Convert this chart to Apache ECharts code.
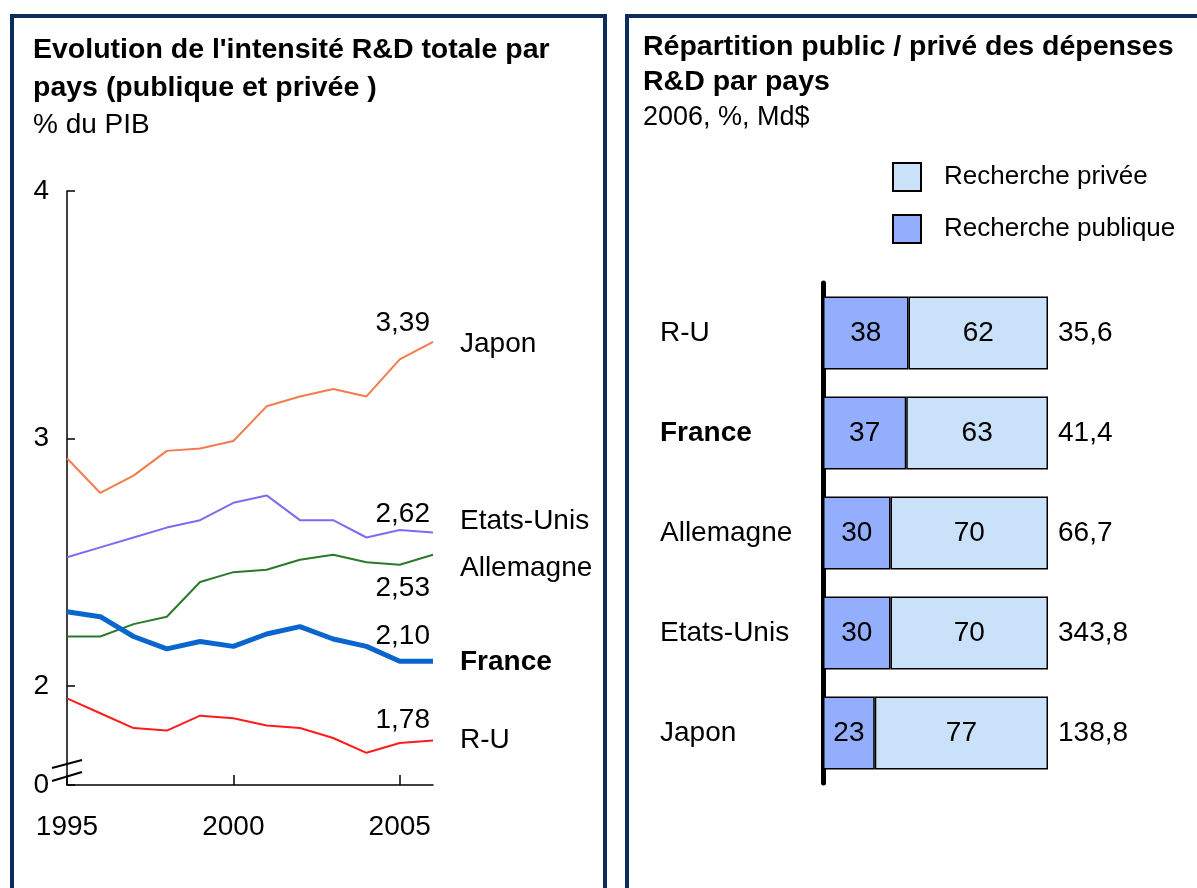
<!DOCTYPE html>
<html>
<head>
<meta charset="utf-8">
<script src="https://cdn.jsdelivr.net/npm/echarts@6/dist/echarts.min.js"></script>
<style>
html,body{margin:0;padding:0;background:#fff}
#main{width:1197px;height:888px}
</style>
</head>
<body>
<div id="main"></div>
<script>
// graphique de gauche : intensité R&D (% du PIB)
var annees = [1995,1996,1997,1998,1999,2000,2001,2002,2003,2004,2005,2006];
var japon = [2.92,2.78,2.85,2.95,2.96,2.99,3.13,3.17,3.20,3.17,3.32,3.39];
var etatsUnis = [2.52,2.56,2.60,2.64,2.67,2.74,2.77,2.67,2.67,2.60,2.63,2.62];
var allemagne = [2.20,2.20,2.25,2.28,2.42,2.46,2.47,2.51,2.53,2.50,2.49,2.53];
var france = [2.30,2.28,2.20,2.15,2.18,2.16,2.21,2.24,2.19,2.16,2.10,2.10];
var royaumeUni = [1.95,1.89,1.83,1.82,1.88,1.87,1.84,1.83,1.79,1.73,1.77,1.78];
var yTicks = [1.6,2,3,4];   // 1.6 = coupure de l'axe, affichée "0"
var xTicks = [1995,2000,2005];

// graphique de droite : répartition public / privé 2006
var pays = ['R-U','France','Allemagne','Etats-Unis','Japon'];
var publique = [38,37,30,30,23];
var privee = [62,63,70,70,77];
var totaux = [35.6,41.4,66.7,343.8,138.8];

var police = "'Liberation Sans', Arial, sans-serif";
var taille = 28;
var virgule = function (v, d) { return v.toFixed(d).replace('.', ','); };

// styles et placement des étiquettes (hors données)
var lignes = [
    {name:'Japon', data:japon, color:'#f57b4e', width:2, dyVal:-19, dyNom:2},
    {name:'Etats-Unis', data:etatsUnis, color:'#7b6cf2', width:2, dyVal:-18, dyNom:-11},
    {name:'Allemagne', data:allemagne, color:'#2b7a2b', width:2, dyVal:33, dyNom:13},
    {name:'R-U', data:royaumeUni, color:'#ff1c1c', width:2, dyVal:-20, dyNom:0},
    {name:'France', data:france, color:'#0a66cc', width:5, dyVal:-25, dyNom:1, gras:true}
];

var series = [];
var valeurs = [];
var noms = [];
lignes.forEach(function (l) {
    var pts = [];
    for (var i = 0; i < annees.length; i++) {
        pts.push([annees[i], l.data[i]]);
    }
    series.push({
        type:'line', name:l.name, xAxisIndex:0, yAxisIndex:0,
        data:pts, symbol:'none', silent:true,
        lineStyle:{color:l.color, width:l.width}
    });
    var last = pts[pts.length - 1];
    valeurs.push({value:last, label:{formatter:virgule(last[1], 2), offset:[-3, l.dyVal]}});
    noms.push({value:last, label:{formatter:l.name, offset:[27, l.dyNom], fontWeight:l.gras ? 'bold' : 'normal'}});
});
var etiquette = {show:true, position:'inside', verticalAlign:'middle', color:'#000',
    textBorderWidth:0, fontSize:taille, fontFamily:police};
// opacité 1 : le scatter est à 0.8 par défaut, ce qui grise les étiquettes
var plein = {color:'#000', opacity:1};
series.push({
    type:'scatter', xAxisIndex:0, yAxisIndex:0, symbolSize:0, silent:true, data:valeurs,
    itemStyle:plein,
    label:Object.assign({align:'right'}, etiquette)
});
series.push({
    type:'scatter', xAxisIndex:0, yAxisIndex:0, symbolSize:0, silent:true, data:noms,
    itemStyle:plein,
    label:Object.assign({align:'left'}, etiquette)
});

// barres empilées
var bordure = {borderColor:'#000', borderWidth:1.5};
series.push({
    type:'bar', name:'Recherche publique', stack:'p', xAxisIndex:1, yAxisIndex:1,
    data:publique, barWidth:73,
    itemStyle:Object.assign({color:'#93aefc'}, bordure),
    label:{show:true, position:'inside', color:'#000', fontSize:taille, fontFamily:police}
});
series.push({
    type:'bar', name:'Recherche privée', stack:'p', xAxisIndex:1, yAxisIndex:1,
    data:privee, barWidth:73,
    itemStyle:Object.assign({color:'#c9e2fa'}, bordure),
    label:{show:true, position:'inside', color:'#000', fontSize:taille, fontFamily:police}
});
series.push({
    type:'scatter', xAxisIndex:1, yAxisIndex:1, symbolSize:0, silent:true,
    data:pays.map(function (p) { return [100, p]; }),
    itemStyle:plein,
    label:{show:true, position:'right', distance:10, color:'#000', fontSize:taille, fontFamily:police,
        formatter:function (p) { return virgule(totaux[p.dataIndex], 1); }}
});

var cadre = '#0b2c5d';
var option = {
    animation:false,
    textStyle:{fontFamily:police, color:'#000'},
    title:[
        {
            text:"Evolution de l'intensité R&D totale par\npays (publique et privée )",
            subtext:'% du PIB', left:33, top:31, padding:0, itemGap:0,
            textStyle:{fontSize:28.5, fontWeight:'bold', color:'#000', lineHeight:38, fontFamily:police},
            subtextStyle:{fontSize:taille, color:'#000', lineHeight:36, fontFamily:police}
        },
        {
            text:'Répartition public / privé des dépenses\nR&D par pays',
            subtext:'2006, %, Md$', left:643, top:30, padding:0, itemGap:0,
            textStyle:{fontSize:28.5, fontWeight:'bold', color:'#000', lineHeight:35, fontFamily:police},
            subtextStyle:{fontSize:27, color:'#000', lineHeight:36, fontFamily:police}
        }
    ],
    legend:{
        data:['Recherche privée','Recherche publique'],
        orient:'vertical', left:892, top:162, padding:0,
        itemWidth:28, itemHeight:28, itemGap:22, icon:'rect',
        textStyle:{fontSize:26, color:'#000', fontFamily:police, padding:[0,0,0,18]}
    },
    grid:[
        {left:67, top:191, width:366, height:594},
        {left:823, top:283, width:225, height:500}
    ],
    xAxis:[
        {
            type:'value', gridIndex:0, min:1995, max:2006,
            axisLine:{lineStyle:{color:'#000', width:1.5}},
            axisTick:{inside:true, length:10, customValues:xTicks, lineStyle:{color:'#000', width:1.5}},
            axisLabel:{customValues:xTicks, margin:28, fontSize:taille, color:'#000', fontFamily:police,
                formatter:function (v) { return String(v); }},
            splitLine:{show:false}
        },
        {type:'value', gridIndex:1, min:0, max:100, show:false}
    ],
    yAxis:[
        {
            type:'value', gridIndex:0, min:1.6, max:4,
            axisLine:{show:true, lineStyle:{color:'#000', width:1.5}},
            axisTick:{show:true, inside:true, length:8, customValues:yTicks, lineStyle:{color:'#000', width:1.5}},
            axisLabel:{customValues:yTicks, margin:18, fontSize:taille, color:'#000', fontFamily:police,
                formatter:function (v) { return v < 1.9 ? '0' : String(v); }},
            splitLine:{show:false}
        },
        {
            type:'category', gridIndex:1, data:pays, inverse:true,
            axisLine:{lineStyle:{color:'#000', width:5}},
            axisTick:{show:false},
            axisLabel:{margin:163, align:'left', fontSize:taille, color:'#000', fontFamily:police,
                formatter:function (v) { return v === 'France' ? '{b|' + v + '}' : v; },
                rich:{b:{fontWeight:'bold', fontSize:taille, fontFamily:police, color:'#000'}}}
        }
    ],
    graphic:[
        {type:'rect', shape:{x:12, y:16, width:593, height:900}, style:{fill:'none', stroke:cadre, lineWidth:4}, silent:true},
        {type:'rect', shape:{x:627, y:16, width:600, height:900}, style:{fill:'none', stroke:cadre, lineWidth:4}, silent:true},
        // coupure de l'axe
        {type:'line', shape:{x1:52, y1:768, x2:82, y2:760}, style:{stroke:'#000', lineWidth:2}, z:100},
        {type:'line', shape:{x1:52, y1:781, x2:82, y2:772}, style:{stroke:'#000', lineWidth:2}, z:100}
    ],
    series:series
};

var myChart = echarts.init(document.getElementById('main'));
myChart.setOption(option);
</script>
</body>
</html>
